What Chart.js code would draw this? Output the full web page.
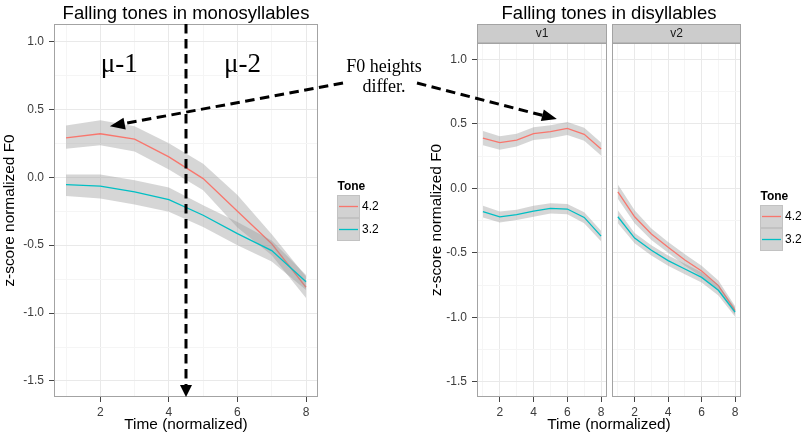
<!DOCTYPE html>
<html>
<head>
<meta charset="utf-8">
<script src="https://cdn.jsdelivr.net/npm/chart.js"></script>
<style>
  body { margin: 0; background: #fff; }
  #wrap { position: relative; width: 805px; height: 434px; overflow: hidden; }
  #wrap canvas { position: absolute; left: 0; top: 0; }
</style>
</head>
<body>
<div id="wrap">
  <canvas id="monoChart" width="805" height="434"></canvas>
  <canvas id="v1Chart" width="805" height="434"></canvas>
  <canvas id="v2Chart" width="805" height="434"></canvas>
</div>
<script>
// time steps and tick values
const time = [1, 2, 3, 4, 5, 6, 7, 8];
const xMajor = [2, 4, 6, 8];
const xMinor = [1, 3, 5, 7];
const yMajor = [-1.5, -1.0, -0.5, 0.0, 0.5, 1.0];
const yMinor = [-1.25, -0.75, -0.25, 0.25, 0.75];
const tones = ['4.2', '3.2'];
const toneColors = ['#F8766D', '#00BFC4'];

// monosyllables: tone 4.2 (mean, lower, upper)
const monoHigh   = [0.29, 0.32, 0.28, 0.15, -0.01, -0.25, -0.49, -0.81];
const monoHighLo = [0.21, 0.235, 0.19, 0.056, -0.096, -0.37, -0.575, -0.89];
const monoHighHi = [0.38, 0.42, 0.375, 0.25, 0.10, -0.13, -0.42, -0.73];
// monosyllables: tone 3.2
const monoLow    = [-0.054, -0.066, -0.108, -0.165, -0.28, -0.415, -0.54, -0.77];
const monoLowLo  = [-0.138, -0.157, -0.20, -0.255, -0.366, -0.50, -0.62, -0.83];
const monoLowHi  = [0.02, 0.02, -0.022, -0.076, -0.206, -0.33, -0.465, -0.72];

// disyllables, first vowel
const v1High   = [0.39, 0.355, 0.375, 0.425, 0.44, 0.465, 0.42, 0.305];
const v1HighLo = [0.335, 0.30, 0.325, 0.375, 0.39, 0.415, 0.37, 0.255];
const v1HighHi = [0.445, 0.405, 0.425, 0.475, 0.49, 0.515, 0.47, 0.355];
const v1Low    = [-0.18, -0.22, -0.204, -0.176, -0.155, -0.16, -0.225, -0.37];
const v1LowLo  = [-0.225, -0.265, -0.245, -0.22, -0.195, -0.2, -0.27, -0.41];
const v1LowHi  = [-0.135, -0.18, -0.165, -0.135, -0.115, -0.12, -0.185, -0.33];

// disyllables, second vowel
const v2High   = [-0.026, -0.22, -0.354, -0.457, -0.555, -0.64, -0.754, -0.948];
const v2HighLo = [-0.08, -0.27, -0.40, -0.50, -0.60, -0.685, -0.795, -0.98];
const v2HighHi = [0.03, -0.17, -0.31, -0.415, -0.51, -0.60, -0.715, -0.915];
const v2Low    = [-0.22, -0.385, -0.48, -0.56, -0.625, -0.69, -0.79, -0.96];
const v2LowLo  = [-0.27, -0.425, -0.52, -0.60, -0.665, -0.73, -0.83, -0.995];
const v2LowHi  = [-0.17, -0.345, -0.44, -0.52, -0.585, -0.65, -0.75, -0.925];

Chart.defaults.font.family = "'Liberation Sans', Arial, sans-serif";
const SERIF = "'Liberation Serif', 'Times New Roman', serif";
const ribbonFill = 'rgba(153,153,153,0.4)';

const pts = arr => time.map((t, i) => ({ x: t, y: arr[i] }));

// ribbon (upper filled to lower) + line, like geom_smooth
function smoothSets(mean, lo, hi, color, base) {
  return [
    { data: pts(hi), fill: '+1', backgroundColor: ribbonFill, borderColor: 'rgba(0,0,0,0)', borderWidth: 0, pointRadius: 0, order: base + 1 },
    { data: pts(lo), fill: false, borderColor: 'rgba(0,0,0,0)', borderWidth: 0, pointRadius: 0, order: base + 1 },
    { data: pts(mean), fill: false, borderColor: color, borderWidth: 1.3, pointRadius: 0, order: base }
  ];
}

function tickSetter(major, minor) {
  return scale => {
    scale.ticks = major.concat(minor).sort((a, b) => a - b).map(v => ({ value: v }));
  };
}

function xScale(showTitle) {
  return {
    type: 'linear', min: 0.65, max: 8.35, bounds: 'data',
    afterBuildTicks: tickSetter(xMajor, xMinor),
    afterFit: s => { s.height = 37; },
    ticks: {
      autoSkip: false, maxRotation: 0, padding: 3, color: '#3c3c3c', font: { size: 12 },
      callback: v => xMajor.includes(v) ? String(v) : ''
    },
    grid: {
      color: c => xMajor.includes(c.tick.value) ? '#e9e9e9' : '#f5f5f5',
      tickColor: c => xMajor.includes(c.tick.value) ? '#444' : 'rgba(0,0,0,0)',
      tickLength: 5, lineWidth: 1
    },
    border: { display: false },
    title: { display: showTitle, text: 'Time (normalized)', color: '#000', font: { size: 15.4 }, padding: 0 }
  };
}

function yScale(width, showLabels) {
  return {
    type: 'linear', min: -1.618, max: 1.128, bounds: 'data',
    afterBuildTicks: tickSetter(yMajor, yMinor),
    afterFit: s => { s.width = width; },
    ticks: {
      display: showLabels, autoSkip: false, padding: 5, color: '#3c3c3c', font: { size: 12 },
      callback: v => yMajor.includes(v) ? v.toFixed(1) : ''
    },
    grid: {
      color: c => yMajor.includes(c.tick.value) ? '#e9e9e9' : '#f5f5f5',
      tickColor: c => yMajor.includes(c.tick.value) ? '#444' : 'rgba(0,0,0,0)',
      tickLength: 5, drawTicks: showLabels, lineWidth: 1
    },
    border: { display: false },
    title: { display: showLabels, text: 'z-score normalized F0', color: '#000', font: { size: 15.4 }, padding: { top: 1, bottom: 0 } }
  };
}

function drawLegend(ctx, lg) {
  ctx.save();
  ctx.fillStyle = '#000';
  ctx.font = "bold 12px 'Liberation Sans', Arial, sans-serif";
  ctx.textAlign = 'left';
  ctx.textBaseline = 'alphabetic';
  ctx.fillText('Tone', lg.x + 0.5, lg.titleY);
  tones.forEach((t, i) => {
    const top = lg.keyTop + i * 23;
    ctx.fillStyle = '#d2d2d2';
    ctx.fillRect(lg.x, top, 23, 23);
    ctx.strokeStyle = '#c2c2c2';
    ctx.lineWidth = 1;
    ctx.strokeRect(lg.x + 0.5, top + 0.5, 22, 22);
    ctx.strokeStyle = toneColors[i];
    ctx.lineWidth = 1.3;
    ctx.beginPath();
    ctx.moveTo(lg.x + 2, top + 11.5);
    ctx.lineTo(lg.x + 21, top + 11.5);
    ctx.stroke();
    ctx.fillStyle = '#000';
    ctx.font = "12px 'Liberation Sans', Arial, sans-serif";
    ctx.textBaseline = 'middle';
    ctx.fillText(t, lg.x + 25, top + 12);
    ctx.textBaseline = 'alphabetic';
    ctx.font = "bold 12px 'Liberation Sans', Arial, sans-serif";
  });
  ctx.restore();
}

const panelDecor = {
  id: 'panelDecor',
  beforeDraw(chart) {
    const { ctx, chartArea: a } = chart;
    ctx.save();
    ctx.fillStyle = '#fff';
    ctx.fillRect(a.left, a.top, a.right - a.left, a.bottom - a.top);
    ctx.restore();
  },
  afterDraw(chart, args, opts) {
    const { ctx, chartArea: a } = chart;
    ctx.save();
    ctx.strokeStyle = '#a3a3a3';
    ctx.lineWidth = 1;
    ctx.strokeRect(a.left + 0.5, a.top + 0.5, a.right - a.left - 1, a.bottom - a.top - 1);
    if (opts.strip) {
      ctx.fillStyle = '#cccccc';
      ctx.fillRect(a.left, 24.5, a.right - a.left, a.top - 24.5);
      ctx.strokeStyle = '#a3a3a3';
      ctx.strokeRect(a.left + 0.5, 24.5, a.right - a.left - 1, a.top - 24.5);
      ctx.fillStyle = '#1a1a1a';
      ctx.font = "12px 'Liberation Sans', Arial, sans-serif";
      ctx.textAlign = 'center';
      ctx.textBaseline = 'middle';
      ctx.fillText(opts.strip, (a.left + a.right) / 2, 34);
    }
    if (opts.title) {
      ctx.fillStyle = '#000';
      ctx.font = "18.5px 'Liberation Sans', Arial, sans-serif";
      ctx.textAlign = 'center';
      ctx.textBaseline = 'alphabetic';
      ctx.fillText(opts.title, (a.left + a.right) / 2, 19);
    }
    if (opts.legend) drawLegend(ctx, opts.legend);
    ctx.restore();
  }
};

function makeChart(id, high, highLo, highHi, low, lowLo, lowHi, yWidth, showY, padding, decor) {
  return new Chart(document.getElementById(id), {
    type: 'line',
    data: {
      datasets: smoothSets(high, highLo, highHi, toneColors[0], 2)
        .concat(smoothSets(low, lowLo, lowHi, toneColors[1], 0))
    },
    options: {
      responsive: false,
      animation: false,
      events: [],
      layout: { padding: padding },
      scales: { x: xScale(decor.xTitle), y: yScale(yWidth, showY) },
      plugins: { legend: { display: false }, tooltip: { enabled: false }, panelDecor: decor }
    },
    plugins: [panelDecor]
  });
}

const monoChart = makeChart('monoChart', monoHigh, monoHighLo, monoHighHi, monoLow, monoLowLo, monoLowHi,
  54, true, { left: 0, top: 24, right: 487, bottom: 0 },
  { title: 'Falling tones in monosyllables', xTitle: true, legend: { x: 337, titleY: 190, keyTop: 195 } });

const v1Chart = makeChart('v1Chart', v1High, v1HighLo, v1HighHi, v1Low, v1LowLo, v1LowHi,
  50, true, { left: 427, top: 43, right: 198, bottom: 0 },
  { strip: 'v1', xTitle: false });

// annotations drawn on top of everything
function dashedArrow(ctx, x0, y0, x1, y1, headLen, headHalf) {
  const ang = Math.atan2(y1 - y0, x1 - x0);
  const c = Math.cos(ang), s = Math.sin(ang);
  const bx = x1 - headLen * c, by = y1 - headLen * s;
  ctx.save();
  ctx.strokeStyle = '#000';
  ctx.fillStyle = '#000';
  ctx.lineWidth = 3;
  ctx.setLineDash([9.5, 5.5]);
  ctx.beginPath();
  ctx.moveTo(x0, y0);
  ctx.lineTo(bx, by);
  ctx.stroke();
  ctx.setLineDash([]);
  ctx.beginPath();
  ctx.moveTo(x1, y1);
  ctx.lineTo(bx + headHalf * s, by - headHalf * c);
  ctx.lineTo(bx - headHalf * s, by + headHalf * c);
  ctx.closePath();
  ctx.fill();
  ctx.restore();
}

const annotations = {
  id: 'annotations',
  afterDraw(chart) {
    const ctx = chart.ctx;
    const a2 = chart.chartArea;
    const a1 = v1Chart.chartArea;
    const am = monoChart.chartArea;
    ctx.save();
    // right title and shared x title
    ctx.fillStyle = '#000';
    ctx.textAlign = 'center';
    ctx.font = "18.5px 'Liberation Sans', Arial, sans-serif";
    ctx.fillText('Falling tones in disyllables', (a1.left + a2.right) / 2, 19);
    ctx.font = "15.4px 'Liberation Sans', Arial, sans-serif";
    ctx.textBaseline = 'middle';
    ctx.fillText('Time (normalized)', (a1.left + a2.right) / 2, 424.8);
    ctx.textBaseline = 'alphabetic';
    // syllable halves
    ctx.font = '27px ' + SERIF;
    const mx = monoChart.scales.x;
    ctx.fillText('\u03bc-1', mx.getPixelForValue(2.55), 72);
    ctx.fillText('\u03bc-2', mx.getPixelForValue(6.15), 72);
    ctx.font = '18px ' + SERIF;
    ctx.fillText('F0 heights', 384, 72);
    ctx.fillText('differ.', 384, 92);
    ctx.restore();
    // vertical boundary arrow
    const bx = mx.getPixelForValue(4.5);
    dashedArrow(ctx, bx, am.top, bx, am.bottom, 12, 6);
    // arrows to the F0 peaks
    dashedArrow(ctx, 343, 83, mx.getPixelForValue(2.28), monoChart.scales.y.getPixelForValue(0.375), 15, 6);
    dashedArrow(ctx, 417, 83, v1Chart.scales.x.getPixelForValue(5.38), v1Chart.scales.y.getPixelForValue(0.538), 15, 6);
  }
};

const v2Chart = new Chart(document.getElementById('v2Chart'), {
  type: 'line',
  data: {
    datasets: smoothSets(v2High, v2HighLo, v2HighHi, toneColors[0], 2)
      .concat(smoothSets(v2Low, v2LowLo, v2LowHi, toneColors[1], 0))
  },
  options: {
    responsive: false,
    animation: false,
    events: [],
    layout: { padding: { left: 612, top: 43, right: 64, bottom: 0 } },
    scales: { x: xScale(false), y: yScale(0, false) },
    plugins: {
      legend: { display: false }, tooltip: { enabled: false },
      panelDecor: { strip: 'v2', legend: { x: 760, titleY: 200, keyTop: 205 } }
    }
  },
  plugins: [panelDecor, annotations]
});
</script>
</body>
</html>
